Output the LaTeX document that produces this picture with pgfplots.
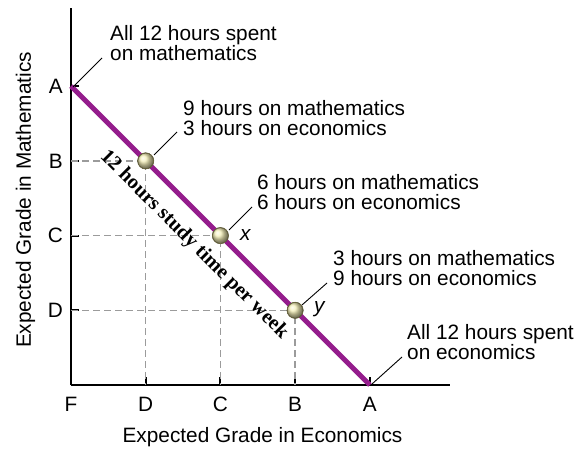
\documentclass[border=0pt]{standalone}
\usepackage{pgfplots}
\pgfplotsset{compat=1.18}
\usepackage{fontspec}
\setmainfont{Liberation Sans}
\newfontfamily\serifbold{Liberation Serif}
\definecolor{budget}{RGB}{148,28,140}
\definecolor{dashgrey}{RGB}{155,155,155}
\definecolor{ballc}{RGB}{245,240,185}
\definecolor{ballline}{RGB}{110,105,65}
\begin{document}
\begin{tikzpicture}[font=\fontsize{20.8bp}{24bp}\selectfont]
\begin{scope}[x=1bp,y=-1bp,shift={(-71bp,385bp)}]
\path[use as bounding box] (0,0) rectangle (587,449);
\end{scope}
\begin{axis}[
  x=74.7bp, y=74.7bp,
  xmin=0, xmax=5.07, ymin=0, ymax=5.05,
  axis lines=left,
  axis line style={-, line width=2bp, black},
  clip=false,
  xtick={0,1,2,3,4}, xticklabels={F,D,C,B,A},
  ytick={1,2,3,4}, yticklabels={D,C,B,A},
  tick align=inside,
  major tick length=8bp,
  tick style={black, line width=2bp},
  xticklabel style={inner sep=0pt, anchor=north, yshift=-12bp},
  yticklabel style={inner sep=0pt, anchor=east, xshift=-8bp},
]
\addplot[dashgrey, line width=1.3bp, dash pattern=on 7bp off 4bp] coordinates {(0,3) (1,3) (1,0)};
\addplot[dashgrey, line width=1.3bp, dash pattern=on 7bp off 4bp] coordinates {(0,2) (2,2) (2,0)};
\addplot[dashgrey, line width=1.3bp, dash pattern=on 7bp off 4bp] coordinates {(0,1) (3,1) (3,0)};
\addplot[budget, line width=5bp] coordinates {(0,4) (4,0)};
\addplot[only marks, mark=ball, mark size=8bp, mark options={ball color=ballc}] coordinates {(1,3) (2,2) (3,1)};
\addplot[only marks, mark=o, mark size=8bp, mark options={draw=ballline, line width=0.8bp}] coordinates {(1,3) (2,2) (3,1)};
\end{axis}
\begin{scope}[x=1bp,y=-1bp,shift={(-71bp,385bp)}]
\draw[line width=0.9bp] (73,87) -- (102,58);
\draw[line width=0.9bp] (154,155) -- (177,132);
\draw[line width=0.9bp] (229,230) -- (252,207);
\draw[line width=0.9bp] (302,305) -- (327,283);
\draw[line width=0.9bp] (372,384) -- (402,357);
\node[anchor=base west, inner sep=0pt] at (110,41) {All 12 hours spent};
\node[anchor=base west, inner sep=0pt] at (110,61) {on mathematics};
\node[anchor=base west, inner sep=0pt] at (183,116) {9 hours on mathematics};
\node[anchor=base west, inner sep=0pt] at (183,136) {3 hours on economics};
\node[anchor=base west, inner sep=0pt] at (257,190) {6 hours on mathematics};
\node[anchor=base west, inner sep=0pt] at (257,210) {6 hours on economics};
\node[anchor=base west, inner sep=0pt] at (333,266) {3 hours on mathematics};
\node[anchor=base west, inner sep=0pt] at (333,286) {9 hours on economics};
\node[anchor=base west, inner sep=0pt] at (407,340) {All 12 hours spent};
\node[anchor=base west, inner sep=0pt] at (407,360) {on economics};
\node[anchor=base west, inner sep=0pt] at (240,241) {\itshape x};
\node[anchor=base west, inner sep=0pt] at (314,313) {\itshape y};
\node[anchor=base, inner sep=0pt] at (262.5,443) {Expected Grade in Economics};
\node[anchor=base, inner sep=0pt, rotate=90] at (31,200) {Expected Grade in Mathematics};
\node[rotate=-45, inner sep=0pt, font=\serifbold\bfseries\fontsize{20.5bp}{24bp}\selectfont] at (194,245) {12 hours study time per week};
\end{scope}
\end{tikzpicture}
\end{document}
